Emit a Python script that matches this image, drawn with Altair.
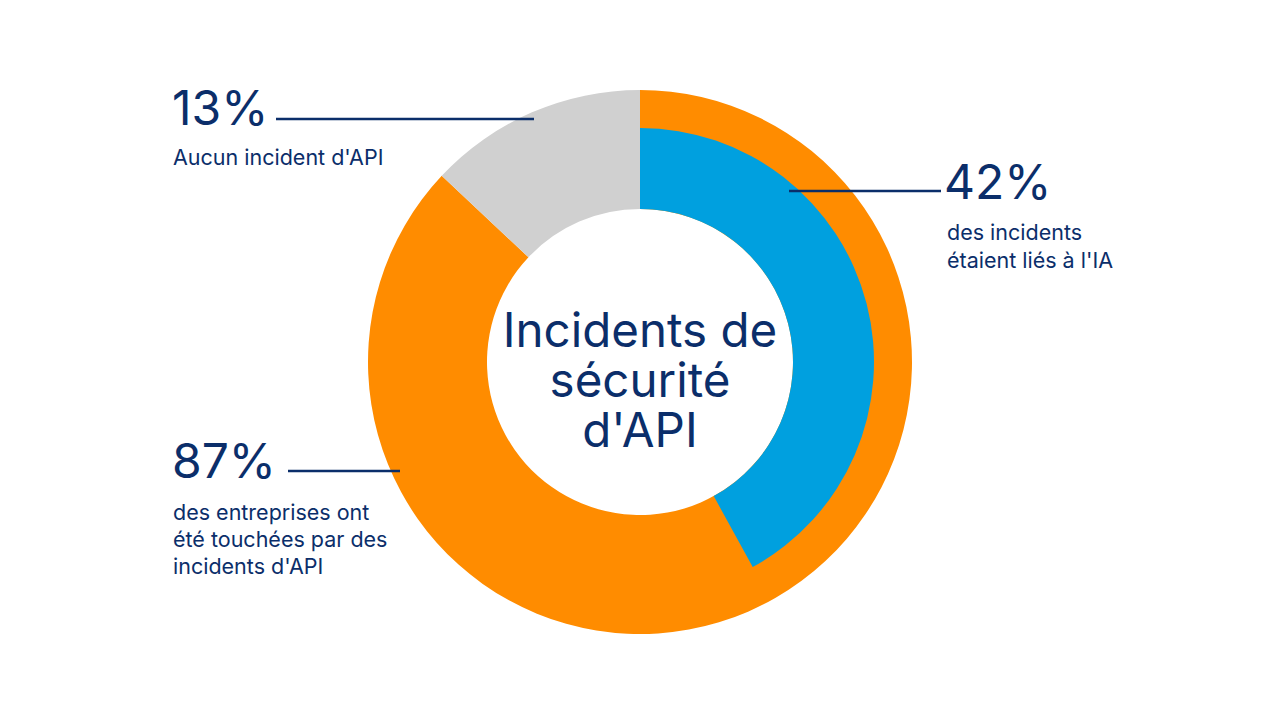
import altair as alt
import pandas as pd

# Ring data (percent of full circle)
ring_labels = ["Touchées par des incidents d'API", "Aucun incident d'API"]
ring_start = [0, 87]
ring_end = [87, 100]
ring_colors = ["#FF8C00", "#D0D0D0"]

inner_labels = ["Incidents liés à l'IA"]
inner_start = [0]
inner_end = [42]
inner_colors = ["#00A0DF"]

pct_texts = ["13%", "42%", "87%"]
desc_texts = [
    "Aucun incident d'API",
    "des incidents\nétaient liés à l'IA",
    "des entreprises ont\nété touchées par des\nincidents d'API",
]
center_lines = ["Incidents de", "sécurité", "d'API"]

NAVY = "#0B2E6A"
FONT = "Inter"
CX, CY = 640, 362

theta_scale = alt.Scale(domain=[0, 100], range=[0, 6.283185307179586])

ring_df = pd.DataFrame({"label": ring_labels, "start": ring_start, "end": ring_end})
inner_df = pd.DataFrame({"seg": inner_labels, "start": inner_start, "end": inner_end})

outer = alt.Chart(ring_df).mark_arc(innerRadius=153, outerRadius=272).encode(
    theta=alt.Theta("start:Q", scale=theta_scale),
    theta2="end:Q",
    color=alt.Color("label:N", scale=alt.Scale(domain=ring_labels, range=ring_colors), legend=None),
    x=alt.value(CX),
    y=alt.value(CY),
)

inner = alt.Chart(inner_df).mark_arc(innerRadius=153, outerRadius=234).encode(
    theta=alt.Theta("start:Q", scale=theta_scale),
    theta2="end:Q",
    fill=alt.Fill("seg:N", scale=alt.Scale(domain=inner_labels, range=inner_colors), legend=None),
    x=alt.value(CX),
    y=alt.value(CY),
)

base = alt.Chart(pd.DataFrame({"a": [0]}))

def rule(x1, x2, y):
    return base.mark_rule(color=NAVY, strokeWidth=2.5).encode(
        x=alt.value(x1), x2=alt.value(x2), y=alt.value(y)
    )

def txt(s, x, y, size, align="left", lh=None):
    kw = dict(font=FONT, fontSize=size, color=NAVY, align=align, baseline="alphabetic", lineBreak="\n")
    if lh is not None:
        kw["lineHeight"] = lh
    return base.mark_text(**kw).encode(text=alt.value(s), x=alt.value(x), y=alt.value(y))

layers = [
    outer,
    inner,
    rule(276, 534, 119),
    rule(789, 941, 191),
    rule(288, 400, 471),
    txt(pct_texts[0], 172, 125, 48),
    txt(desc_texts[0], 173, 165, 21.5),
    txt(pct_texts[1], 944, 199, 48),
    txt(desc_texts[1], 947, 240, 21.5, lh=28),
    txt(pct_texts[2], 172, 478, 48),
    txt(desc_texts[2], 173, 520, 21.5, lh=27),
    txt(center_lines[0], 640, 347, 47.5, align="center"),
    txt(center_lines[1], 640, 397, 47.5, align="center"),
    txt(center_lines[2], 640, 447, 47.5, align="center"),
]

chart = alt.layer(*layers).resolve_scale(color="independent", fill="independent").properties(
    width=1280, height=720, autosize=alt.AutoSizeParams(type="none"), padding=0, background="white"
).configure_view(stroke=None)

chart.save("out.html", embed_options={"renderer": "svg", "actions": False})
